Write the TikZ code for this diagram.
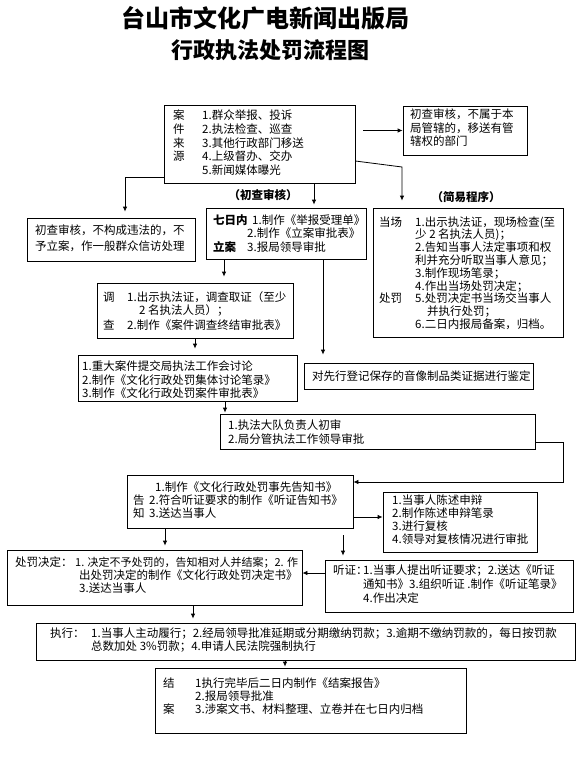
\documentclass[tikz,border=0pt]{standalone}
\usepackage{fontspec}
\setmainfont{Noto Sans CJK SC}
\usetikzlibrary{arrows.meta}
\newcommand\mkbox[5]{\node[box, minimum width={#4pt-#2pt}, minimum height={#5pt-#3pt}] (#1) at ({(#2+#4)/2},{(#3+#5)/2}) {};}
\newcommand\tl[4]{\node[txt] (#1) at (#2,#3+4) {#4};}
\begin{document}
\begin{tikzpicture}[x=1pt,y=-1pt,
  box/.style={draw, line width=0.8pt, inner sep=0pt},
  txt/.style={inner sep=0pt, anchor=base west, font=\fontsize{11.5}{13}\selectfont},
  arr/.style={line width=0.8pt, -{Latex[length=5pt,width=4.5pt]}},
  bold/.style={font=\fontsize{11.5}{13}\selectfont\bfseries}]
\useasboundingbox (0,0) rectangle (581,757);
% title
\node[inner sep=0pt, font=\fontsize{24}{24}\selectfont\bfseries] (title1) at (265,18) {台山市文化广电新闻出版局};
\node[inner sep=0pt, font=\fontsize{22}{22}\selectfont\bfseries] (title2) at (270,50) {行政执法处罚流程图};
% boxes
\mkbox{src}{164}{105}{355}{183}
\mkbox{nb}{403}{106}{527}{155}
\mkbox{lb}{27}{218}{195}{261}
\mkbox{qr}{206}{208}{366}{259}
\mkbox{jy}{373}{208}{563}{337}
\mkbox{dc}{97}{283}{293}{338}
\mkbox{zd}{78}{355}{297}{401}
\mkbox{xj}{304}{363}{533}{389}
\mkbox{zf}{220}{414}{535}{449}
\mkbox{gz}{127}{475}{353}{528}
\mkbox{cs}{383}{492}{537}{552}
\mkbox{cf}{7}{550}{302}{605}
\mkbox{tz}{325}{560}{573}{612}
\mkbox{zx}{36}{623}{575}{660}
\mkbox{ja}{155}{668}{466}{733}
% labels
\node[bold, inner sep=0pt] (lab1) at (263,195) {（初查审核）};
\node[bold, inner sep=0pt] (lab2) at (466,197) {（简易程序）};
% src
\tl{s1}{173}{116}{案}
\tl{s2}{173}{129.5}{件}
\tl{s3}{173}{143}{来}
\tl{s4}{173}{156.5}{源}
\tl{s5}{202}{116}{1.群众举报、投诉}
\tl{s6}{202}{129.5}{2.执法检查、巡查}
\tl{s7}{202}{143}{3.其他行政部门移送}
\tl{s8}{202}{156.5}{4.上级督办、交办}
\tl{s9}{202}{170}{5.新闻媒体曝光}
% nb
\tl{n1}{410}{115}{初查审核，不属于本}
\tl{n2}{410}{128}{局管辖的，移送有管}
\tl{n3}{410}{141}{辖权的部门}
% lb
\tl{l1}{35}{230}{初查审核，不构成违法的，不}
\tl{l2}{35}{246}{予立案，作一般群众信访处理}
% qr
\node[bold, anchor=base west, inner sep=0pt] (q1) at (213,224) {七日内};
\tl{q2}{252}{220}{1.制作《举报受理单》}
\tl{q3}{247}{233}{2.制作《立案审批表》}
\node[bold, anchor=base west, inner sep=0pt] (q4) at (213,251) {立案};
\tl{q5}{247}{247}{3.报局领导审批}
% jy
\tl{j0}{379}{222}{当场}
\tl{j1}{415}{222}{1.出示执法证，现场检查(至}
\tl{j2}{415}{234.8}{少 2 名执法人员)；}
\tl{j3}{415}{247.6}{2.告知当事人法定事项和权}
\tl{j4}{415}{260.4}{利并充分听取当事人意见；}
\tl{j5}{415}{273.2}{3.制作现场笔录；}
\tl{j6}{415}{286}{4.作出当场处罚决定；}
\tl{j7}{379}{298.8}{处罚}
\tl{j8}{415}{298.8}{5.处罚决定书当场交当事人}
\tl{j9}{427}{311.6}{并执行处罚；}
\tl{j10}{415}{324.4}{6.二日内报局备案，归档。}
% dc
\tl{d1}{103}{297}{调}
\tl{d2}{127}{297}{1.出示执法证，调查取证（至少}
\tl{d3}{139}{310}{2 名执法人员）；}
\tl{d4}{103}{325}{查}
\tl{d5}{127}{325}{2.制作《案件调查终结审批表》}
% zd
\tl{z1}{82}{366}{1.重大案件提交局执法工作会讨论}
\tl{z2}{82}{380}{2.制作《文化行政处罚集体讨论笔录》}
\tl{z3}{82}{393}{3.制作《文化行政处罚案件审批表》}
% xj
\tl{x1}{312}{376}{对先行登记保存的音像制品类证据进行鉴定}
% zf
\tl{f1}{228}{425}{1.执法大队负责人初审}
\tl{f2}{228}{439}{2.局分管执法工作领导审批}
% gz
\tl{g1}{155}{487}{1.制作《文化行政处罚事先告知书》}
\tl{g2}{133}{500}{告}
\tl{g3}{149}{500}{2.符合听证要求的制作《听证告知书》}
\tl{g4}{133}{513}{知}
\tl{g5}{149}{513}{3.送达当事人}
% cs
\tl{c1}{392}{500}{1.当事人陈述申辩}
\tl{c2}{392}{513}{2.制作陈述申辩笔录}
\tl{c3}{392}{526}{3.进行复核}
\tl{c4}{392}{539}{4.领导对复核情况进行审批}
% cf
\tl{p1}{15}{562}{处罚决定：}
\node[txt, font=\fontsize{11}{13}\selectfont] (p2) at (75,566) {1. 决定不予处罚的，告知相对人并结案；2. 作};
\tl{p3}{79}{575}{出处罚决定的制作《文化行政处罚决定书》}
\tl{p4}{79}{588}{3.送达当事人}
% tz
\tl{t1}{333}{570}{听证：}
\tl{t2}{363}{570}{1.当事人提出听证要求；2.送达《听证}
\tl{t3}{363}{584}{通知书》3.组织听证 .制作《听证笔录》}
\tl{t4}{363}{598}{4.作出决定}
% zx
\tl{e1}{50}{633}{执行：}
\tl{e2}{91}{633}{1.当事人主动履行；2.经局领导批准延期或分期缴纳罚款；3.逾期不缴纳罚款的，每日按罚款}
\tl{e3}{91}{646}{总数加处 3\%罚款；4.申请人民法院强制执行}
% ja
\tl{a1}{163}{683}{结}
\tl{a2}{195}{683}{1执行完毕后二日内制作《结案报告》}
\tl{a3}{195}{696}{2.报局领导批准}
\tl{a4}{163}{709}{案}
\tl{a5}{195}{709}{3.涉案文书、材料整理、立卷并在七日内归档}
% coordinates
\coordinate (xA) at (314,0);
\coordinate (xB) at (224,0);
\coordinate (xC) at (323,0);
\coordinate (xD) at (195,0);
\coordinate (xE) at (225,0);
\coordinate (xF) at (165,0);
\coordinate (xG) at (343,0);
\coordinate (xH) at (193,0);
\coordinate (xI) at (285,0);
\coordinate (xJ) at (402,0);
\coordinate (xK) at (125,0);
\coordinate (xL) at (563,0);
\coordinate (yA) at (0,161);
\coordinate (yB) at (0,177);
\coordinate (yC) at (0,167);
\coordinate (yD) at (0,442);
\coordinate (yE) at (0,482);
\coordinate (yF) at (0,517);
\coordinate (yG) at (0,573);
% connectors
\draw[arr, shorten <=8pt] (src.east |- nb.west) -- (nb.west);
\draw[arr, shorten >=7pt] (src.east |- yA) -- (xJ |- yC) -- (xJ |- jy.north);
\draw[arr, shorten >=6pt] (src.west |- yB) -| (xK |- lb.north);
\draw[arr, shorten >=3pt] (xA |- src.south) -- (xA |- qr.north);
\draw[arr, shorten >=6pt] (xB |- qr.south) -- (xB |- dc.north);
\draw[arr, shorten >=8pt] (xC |- qr.south) -- (xC |- xj.north);
\draw[arr, shorten >=6pt] (xD |- dc.south) -- (xD |- zd.north);
\draw[arr, shorten >=1pt] (xE |- zd.south) -- (xE |- zf.north);
\draw[arr] (zf.east |- yD) -- (xL |- yD) -- (xL |- yE) -- (gz.east |- yE);
\draw[arr] (gz.east |- yF) -- (cs.west |- yF);
\draw[arr, shorten >=4pt] (xF |- gz.south) -- (xF |- cf.north);
\draw[arr, shorten <=7pt, shorten >=4pt] (xG |- gz.south) -- (xG |- tz.north);
\draw[arr] (tz.west |- yG) -- (cf.east |- yG);
\draw[arr, shorten >=4pt] (xH |- cf.south) -- (xH |- zx.north);
\draw[arr, shorten >=1pt] (xI |- zx.south) -- (xI |- ja.north);
\end{tikzpicture}
\end{document}
